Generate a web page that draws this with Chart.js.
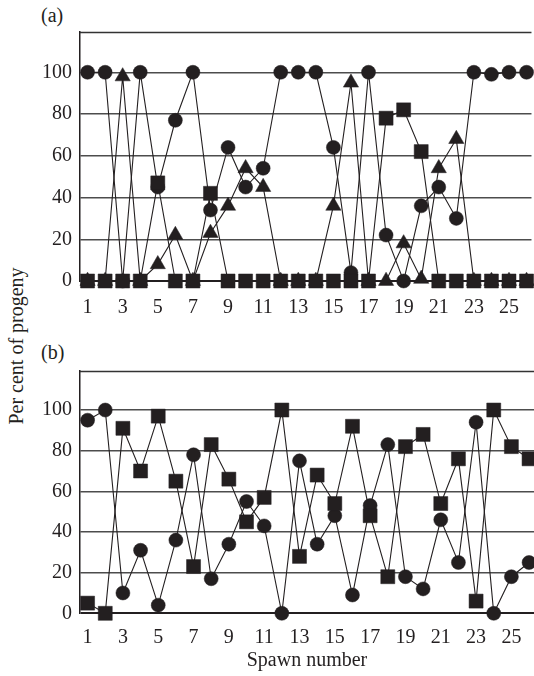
<!DOCTYPE html>
<html><head><meta charset="utf-8">
<script src="https://cdn.jsdelivr.net/npm/chart.js@4.4.1/dist/chart.umd.min.js"></script>
<style>
html,body{margin:0;padding:0;background:#fff;}
#wrap{position:relative;width:534px;height:676px;overflow:hidden;font-family:"Liberation Serif","Times New Roman",serif;color:#231f20;}
.cv{position:absolute;left:0;}
.lbl{position:absolute;font-size:20px;line-height:20px;white-space:nowrap;}
</style></head><body>
<div id="wrap">
<div class="lbl" style="left:41px;top:5px">(a)</div>
<div class="lbl" style="left:41px;top:342px">(b)</div>
<div class="lbl" style="left:16px;top:346px;transform:translate(-50%,-50%) rotate(-90deg);">Per cent of progeny</div>
<canvas id="ca" class="cv" style="top:0" width="534" height="330"></canvas>
<canvas id="cb" class="cv" style="top:340px" width="534" height="336"></canvas>
</div>
<script>
// ---- data ----
const spawns = [1,2,3,4,5,6,7,8,9,10,11,12,13,14,15,16,17,18,19,20,21,22,23,24,25,26];
const xTickLabels = [1,3,5,7,9,11,13,15,17,19,21,23,25];
const yTickLabels = [0,20,40,60,80,100];

// panel (a)
const aSquares   = [0,0,0,0,47,0,0,42,0,0,0,0,0,0,0,0,0,78,82,62,0,0,0,0,0,0];
const aCircles   = [100,100,0,100,45,77,100,34,64,45,54,100,100,100,64,4,100,22,0,36,45,30,100,99,100,100];
const aTriangles = [0,0,98,0,8,22,0,23,36,54,45,0,0,0,36,95,0,0,18,1,54,68,0,0,0,0];

// panel (b)
const bSquares = [5,0,91,70,97,65,23,83,66,45,57,100,28,68,54,92,48,18,82,88,54,76,6,100,82,76];
const bCircles = [95,100,10,31,4,36,78,17,34,55,43,0,75,34,48,9,53,83,18,12,46,25,94,0,18,25];

// ---- chart ----
const INK = '#231f20';
const FONT = {family: '"Liberation Serif","Times New Roman",serif', size: 20};

const topBorder = {
  id: 'topBorder',
  beforeDatasetsDraw(chart){
    const {ctx, chartArea} = chart;
    ctx.save();
    ctx.strokeStyle = '#333';
    ctx.lineWidth = 1.5;
    ctx.beginPath();
    ctx.moveTo(chartArea.left, Math.round(chartArea.top) + 0.5);
    ctx.lineTo(chartArea.right, Math.round(chartArea.top) + 0.5);
    ctx.stroke();
    ctx.restore();
  }
};

function pts(vals){ return spawns.map((s,i)=>({x:s, y:vals[i]})); }
function ds(vals, style, r){
  return {data: pts(vals), pointStyle: style, pointRadius: r, pointHoverRadius: r,
    pointBackgroundColor: INK, pointBorderColor: INK, pointBorderWidth: 0.5,
    borderColor: INK, borderWidth: 1.1, tension: 0, clip: false, fill: false};
}

function makeChart(id, datasets, yMax, padTop, xAxisH, tickPad, title){
  return new Chart(document.getElementById(id), {
    type: 'line',
    data: {datasets},
    plugins: [topBorder],
    options: {
      responsive: false, animation: false, events: [],
      layout: {autoPadding: false, padding: {top: padTop, left: 0, right: 0, bottom: 0}},
      plugins: {legend: {display: false}, tooltip: {enabled: false}},
      scales: {
        x: {
          type: 'linear', min: 0.57, max: 26.28,
          grid: {display: false, drawTicks: false},
          border: {display: false},
          afterBuildTicks: s => { s.ticks = xTickLabels.map(v => ({value: v})); },
          afterFit: s => { s.height = xAxisH; },
          ticks: {font: FONT, color: INK, padding: tickPad, autoSkip: false, maxRotation: 0,
                  callback: v => String(v)},
          title: title ? {display: true, text: title, font: FONT, color: INK, padding: {top: 0, bottom: 3}} : {display: false}
        },
        y: {
          min: 0, max: yMax,
          afterBuildTicks: s => { s.ticks = yTickLabels.map(v => ({value: v})); },
          afterFit: s => { s.width = 80; },
          ticks: {font: FONT, color: INK, padding: 8, callback: v => String(v)},
          grid: {drawTicks: false,
                 color: c => (c.tick && c.tick.value === 0) ? INK : '#4d4d4d',
                 lineWidth: c => (c.tick && c.tick.value === 0) ? 2 : 1.5},
          border: {display: true, color: INK, width: 1.5}
        }
      }
    }
  });
}

makeChart('ca', [ds(aSquares,'rect',9.9), ds(aCircles,'circle',7), ds(aTriangles,'triangle',8.8)],
          119.2, 32.2, 49, 15, null);
makeChart('cb', [ds(bSquares,'rect',9.9), ds(bCircles,'circle',7)],
          119.3, 30.8, 62.7, 12, 'Spawn number');
</script>
</body></html>
